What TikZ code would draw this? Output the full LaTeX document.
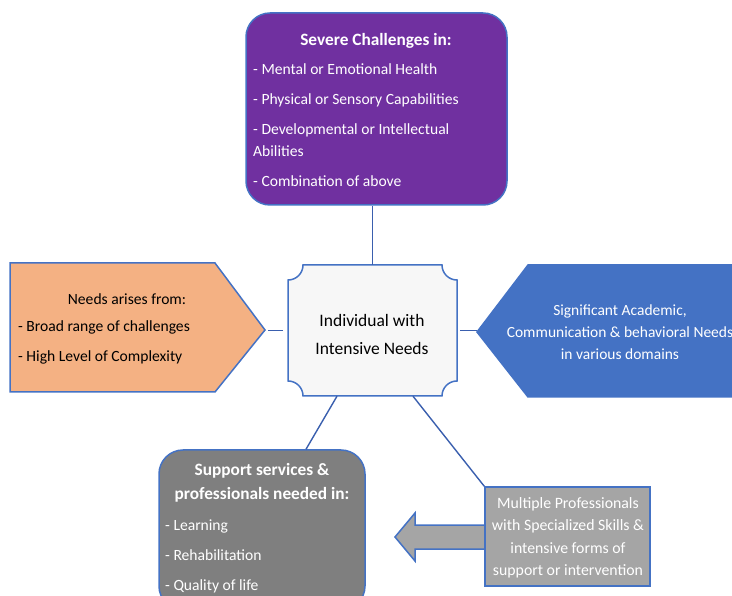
\documentclass[tikz,border=0pt]{standalone}
\usepackage{fontspec}
\setmainfont{Carlito}
\definecolor{bordblue}{HTML}{4472C4}
\definecolor{linkblue}{HTML}{3A5FAE}
\definecolor{sevpurple}{HTML}{7030A0}
\definecolor{needsorange}{HTML}{F4B183}
\definecolor{acadblue}{HTML}{4472C4}
\definecolor{supgray}{HTML}{7F7F7F}
\definecolor{multgray}{HTML}{A5A5A5}
\definecolor{plaquefill}{HTML}{F7F7F7}
\begin{document}
\begin{tikzpicture}[x=1pt,y=-1pt,
    box/.style={draw=bordblue, line width=1.5pt},
    conn/.style={draw=linkblue, line width=1.4pt},
    head/.style={text=white, font=\fontsize{17.3}{23.5}\selectfont\bfseries, align=center},
    item/.style={anchor=west, inner sep=0pt, text height=11.5pt, text depth=1.5pt, font=\fontsize{15.6}{18}\selectfont},
    body/.style={align=center, font=\fontsize{15.5}{22}\selectfont}]
  \clip (0,0) rectangle (732,596);
  % top box
  \node[box, fill=sevpurple, rounded corners=24pt, minimum width=261pt, minimum height=192pt] (sev) at (376.5,109) {};
  \node[head] (sevhead) at (376,41) {Severe Challenges in:};
  \foreach \y/\t in {70/- Mental or Emotional Health, 100/- Physical or Sensory Capabilities,
      130/- Developmental or Intellectual, 152/Abilities, 182/- Combination of above}
    \node[item, text=white] (sev\y) at (253,\y) {\t};
  % centre
  \node[minimum width=169pt, minimum height=131pt, inner sep=0pt] (ind) at (372.5,330.5) {};
  \draw[box, fill=plaquefill] (303,265) -- (442,265) .. controls (442,273.3) and (448.7,280) .. (457,280)
    -- (457,381) .. controls (448.7,381) and (442,387.7) .. (442,396)
    -- (303,396) .. controls (303,387.7) and (296.3,381) .. (288,381)
    -- (288,280) .. controls (296.3,280) and (303,273.3) .. (303,265) -- cycle;
  \node[align=center, font=\fontsize{17.5}{28}\selectfont] (indtext) at (372,334) {Individual with\\Intensive Needs};
  % left
  \draw[box, fill=needsorange] (10,263) -- (215,263) -- (265,330) -- (215,392) -- (10,392) -- cycle;
  \coordinate (needstip) at (265,330);
  \node[body, font=\fontsize{15.6}{22}\selectfont] (needshead) at (127,299) {Needs arises from:};
  \node[item] (needs1) at (18,327) {- Broad range of challenges};
  \node[item] (needs2) at (18,357) {- High Level of Complexity};
  % right
  \draw[box, fill=acadblue] (477,332) -- (528,265) -- (745,265) -- (745,397) -- (528,397) -- cycle;
  \coordinate (acadtip) at (477,332);
  \node[body, text=white] (acadtext) at (620,332) {Significant Academic,\\Communication \& behavioral Needs\\in various domains};
  % bottom left
  \node[box, fill=supgray, rounded corners=24pt, minimum width=206pt, minimum height=160pt] (sup) at (262,530) {};
  \node[head] (suphead) at (262,483) {Support services \&\\professionals needed in:};
  \foreach \y/\t in {525/- Learning, 555/- Rehabilitation, 585/- Quality of life}
    \node[item, text=white] (sup\y) at (165,\y) {\t};
  % bottom right
  \draw[box, fill=multgray] (485,525) -- (415,525) -- (415,513) -- (395,537) -- (415,561) -- (415,549) -- (485,549) -- cycle;
  \node[box, fill=multgray, minimum width=165pt, minimum height=99pt] (mult) at (567.5,536.5) {};
  \node[body, text=white, font=\fontsize{15.8}{22.5}\selectfont] (multtext) at (568,538)
    {Multiple Professionals\\with Specialized Skills \&\\intensive forms of\\support or intervention};
  % connectors
  \draw[conn] (ind.north) -- (ind.north |- sev.south);
  \draw[conn] ([xshift=-5pt]ind.west) -- ([xshift=3pt]needstip |- ind.west);
  \draw[conn] ([xshift=3pt]ind.east) -- (acadtip |- ind.east);
  \draw[conn] ([xshift=-35.5pt]ind.south) -- ([xshift=44pt]sup.north);
  \draw[conn] ([xshift=40.5pt]ind.south) -- (mult.north west);
\end{tikzpicture}
\end{document}
